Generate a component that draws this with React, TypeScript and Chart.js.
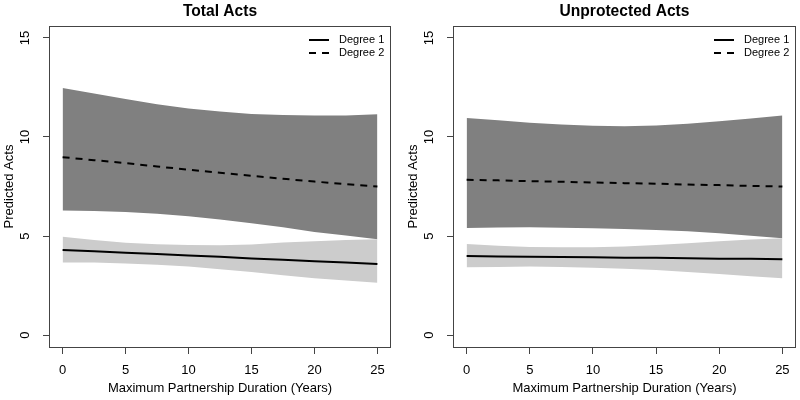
import { useEffect, useRef } from 'react';
import { Chart, registerables } from 'chart.js';

Chart.register(...registerables);

const xValues = [0, 2.5, 5, 7.5, 10, 12.5, 15, 17.5, 20, 22.5, 25];
const xTickValues = [0, 5, 10, 15, 20, 25];
const yTickValues = [0, 5, 10, 15];
const legendLabels = ['Degree 1', 'Degree 2'];

// Total Acts
const totalDeg1 = [4.30, 4.23, 4.16, 4.09, 4.02, 3.95, 3.87, 3.80, 3.73, 3.66, 3.59];
const totalDeg1Upper = [4.97, 4.80, 4.66, 4.58, 4.55, 4.54, 4.57, 4.67, 4.74, 4.80, 4.84];
const totalDeg1Lower = [3.67, 3.66, 3.62, 3.55, 3.46, 3.33, 3.18, 3.02, 2.87, 2.75, 2.64];
const totalDeg2 = [8.98, 8.83, 8.68, 8.51, 8.35, 8.19, 8.04, 7.89, 7.75, 7.62, 7.50];
const totalDeg2Upper = [12.47, 12.19, 11.92, 11.65, 11.44, 11.29, 11.16, 11.11, 11.08, 11.08, 11.15];
const totalDeg2Lower = [6.29, 6.26, 6.21, 6.13, 6.00, 5.84, 5.65, 5.44, 5.21, 5.03, 4.84];

// Unprotected Acts
const unprotDeg1 = [3.99, 3.97, 3.96, 3.94, 3.93, 3.91, 3.90, 3.88, 3.86, 3.85, 3.83];
const unprotDeg1Upper = [4.60, 4.51, 4.45, 4.43, 4.43, 4.47, 4.55, 4.64, 4.74, 4.82, 4.89];
const unprotDeg1Lower = [3.42, 3.44, 3.46, 3.44, 3.40, 3.35, 3.29, 3.19, 3.08, 2.97, 2.87];
const unprotDeg2 = [7.84, 7.81, 7.77, 7.74, 7.70, 7.67, 7.64, 7.60, 7.57, 7.53, 7.50];
const unprotDeg2Upper = [10.96, 10.84, 10.72, 10.63, 10.57, 10.54, 10.58, 10.67, 10.79, 10.93, 11.09];
const unprotDeg2Lower = [5.41, 5.43, 5.44, 5.42, 5.39, 5.35, 5.30, 5.24, 5.14, 5.02, 4.89];

const FONT = '"Liberation Sans", Arial, Helvetica, sans-serif';
const DASH = [7, 6];

const pts = (ys: number[]) => xValues.map((x, i) => ({ x, y: ys[i] }));

const boxPlugin = {
  id: 'rbox',
  afterDraw(chart: any) {
    const { ctx, chartArea: a } = chart;
    ctx.save();
    ctx.strokeStyle = '#444';
    ctx.lineWidth = 1;
    ctx.strokeRect(Math.round(a.left) - 0.5, Math.round(a.top) + 0.5, Math.round(a.right - a.left) + 1, Math.round(a.bottom - a.top));
    // legend (top right, no frame)
    const rx = a.right;
    const rows = [a.top + 14, a.top + 27];
    ctx.font = `11px ${FONT}`;
    ctx.fillStyle = '#000';
    ctx.textBaseline = 'middle';
    ctx.textAlign = 'left';
    legendLabels.forEach((lab, i) => {
      ctx.beginPath();
      ctx.strokeStyle = '#000';
      ctx.lineWidth = 2;
      ctx.setLineDash(i === 0 ? [] : DASH);
      ctx.moveTo(rx - 81, rows[i]);
      ctx.lineTo(rx - 61, rows[i]);
      ctx.stroke();
      ctx.setLineDash([]);
      ctx.fillText(lab, rx - 51, rows[i]);
    });
    ctx.restore();
  },
};

type PanelProps = {
  title: string;
  d1: number[]; d1u: number[]; d1l: number[];
  d2: number[]; d2u: number[]; d2l: number[];
  left: number; width: number; padRight: number;
};

function Panel(p: PanelProps) {
  const ref = useRef<HTMLCanvasElement>(null);
  useEffect(() => {
    if (!ref.current) return;
    const font = { family: FONT, size: 13 };
    const chart = new Chart(ref.current, {
      type: 'line',
      data: {
        datasets: [
          { label: legendLabels[0], data: pts(p.d1), borderColor: '#000', borderWidth: 2, pointRadius: 0, fill: false, tension: 0 },
          { label: legendLabels[1], data: pts(p.d2), borderColor: '#000', borderWidth: 2, borderDash: DASH, pointRadius: 0, fill: false, tension: 0 },
          { label: 'd1 upper', data: pts(p.d1u), borderColor: 'rgba(0,0,0,0)', borderWidth: 0, pointRadius: 0, fill: '+1', backgroundColor: '#cccccc' },
          { label: 'd1 lower', data: pts(p.d1l), borderColor: 'rgba(0,0,0,0)', borderWidth: 0, pointRadius: 0, fill: false },
          { label: 'd2 upper', data: pts(p.d2u), borderColor: 'rgba(0,0,0,0)', borderWidth: 0, pointRadius: 0, fill: '+1', backgroundColor: '#808080' },
          { label: 'd2 lower', data: pts(p.d2l), borderColor: 'rgba(0,0,0,0)', borderWidth: 0, pointRadius: 0, fill: false },
        ],
      },
      options: {
        responsive: false,
        animation: false,
        layout: { padding: { left: 0, right: p.padRight, top: 0, bottom: 0 } },
        plugins: {
          legend: { display: false },
          tooltip: { enabled: false },
          title: {
            display: true,
            text: p.title,
            fullSize: false,
            color: '#000',
            font: { family: FONT, size: 15.6, weight: 'bold' },
            padding: { top: 2, bottom: 5.3 },
          },
        },
        scales: {
          x: {
            type: 'linear',
            min: -1,
            max: 26,
            afterBuildTicks: (s: any) => { s.ticks = xTickValues.map((v) => ({ value: v })); },
            afterFit: (s: any) => { s.height = 53; },
            border: { display: false },
            grid: { drawOnChartArea: false, drawTicks: true, tickLength: 7, color: '#444', lineWidth: 1 },
            ticks: { font, color: '#000', padding: 9, maxRotation: 0, autoSkip: false },
            title: { display: true, text: 'Maximum Partnership Duration (Years)', font, color: '#000', padding: { top: 0, bottom: 4 } },
          },
          y: {
            type: 'linear',
            min: -0.6,
            max: 15.6,
            afterBuildTicks: (s: any) => { s.ticks = yTickValues.map((v) => ({ value: v })); },
            afterFit: (s: any) => { s.width = 50; },
            border: { display: false },
            grid: { drawOnChartArea: false, drawTicks: true, tickLength: 7, color: '#444', lineWidth: 1 },
            ticks: { font, color: '#000', padding: 10, minRotation: 90, maxRotation: 90, crossAlign: 'center', autoSkip: false },
            title: { display: true, text: 'Predicted Acts', font, color: '#000', padding: { top: 2, bottom: 0 } },
          },
        },
      } as any,
      plugins: [boxPlugin],
    });
    return () => chart.destroy();
  }, []);
  return (
    <div style={{ position: 'absolute', left: p.left, top: 0, width: p.width, height: 400 }}>
      <canvas ref={ref} width={p.width} height={400} style={{ display: 'block' }} />
    </div>
  );
}

export default function App() {
  useEffect(() => {
    document.body.style.margin = '0';
  }, []);
  return (
    <div style={{ position: 'fixed', left: 0, top: 0, width: 800, height: 400, background: '#fff' }}>
      <Panel title="Total Acts" d1={totalDeg1} d1u={totalDeg1Upper} d1l={totalDeg1Lower}
        d2={totalDeg2} d2u={totalDeg2Upper} d2l={totalDeg2Lower} left={0} width={400} padRight={10} />
      <Panel title="Unprotected Acts" d1={unprotDeg1} d1u={unprotDeg1Upper} d1l={unprotDeg1Lower}
        d2={unprotDeg2} d2u={unprotDeg2Upper} d2l={unprotDeg2Lower} left={404} width={396} padRight={5} />
    </div>
  );
}
